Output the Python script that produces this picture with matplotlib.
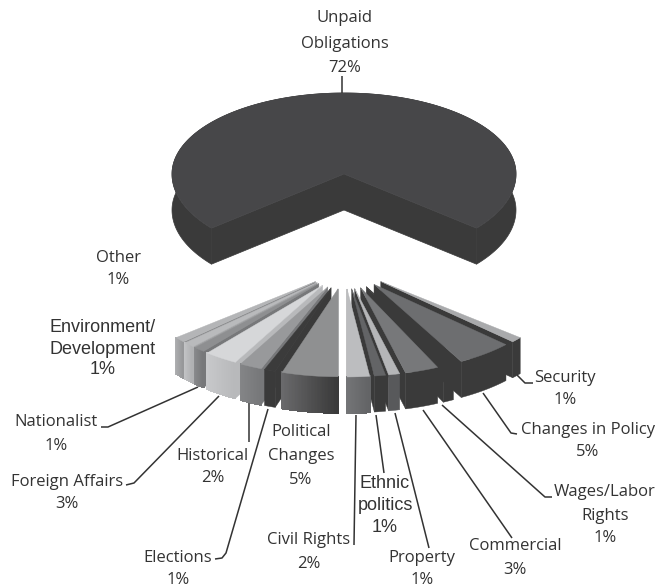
import numpy as np
import matplotlib
matplotlib.use("Agg")
import matplotlib.pyplot as plt
from matplotlib.patches import Polygon
from matplotlib.collections import PolyCollection
from matplotlib.colors import to_rgb

plt.rcParams['font.family'] = ['Open Sans', 'DejaVu Sans']

# data
categories = ["Security", "Changes in Policy", "Wages/Labor Rights", "Commercial", "Property",
              "Ethnic politics", "Civil Rights", "Political Changes", "Elections", "Historical",
              "Foreign Affairs", "Nationalist", "Environment/ Development", "Other"]
values = [1, 5, 1, 3, 1, 1, 2, 5, 1, 2, 3, 1, 1, 1]
main_label = "Unpaid Obligations"
main_value = 72

# styles for each small slice: top, side-left, side-right, cut face
tops  = ['#a9aaac', '#6d6e70', '#3a3a3a', '#77787a', '#b5b6b8', '#636466', '#bcbdbf',
         '#8f9091', '#3b3b3b', '#98999b', '#d6d7d9', '#8e8f91', '#b9babc', '#b4b5b7']
sideL = ['#3a3a3a', '#3a3a3a', '#3a3a3a', '#3a3a3a', '#58595b', '#3a3a3a', '#747577',
         '#6a6a6c', '#3a3a3a', '#848587', '#c8c9cb', '#8a8b8d', '#c2c3c5', '#aeafb1']
sideR = ['#3a3a3a', '#3a3a3a', '#3a3a3a', '#3a3a3a', '#58595b', '#3a3a3a', '#636466',
         '#3a3a3a', '#3a3a3a', '#77787a', '#b8b9bb', '#77787a', '#b0b1b3', '#97989a']
cuts  = ['#3a3a3a', '#3a3a3a', '#3a3a3a', '#3a3a3a', '#3a3a3a', '#3a3a3a', '#6d6e70',
         '#555658', '#3a3a3a', '#77787a', '#b8b9bb', '#77787a', '#a0a1a3', '#8e8f91']

W, H = 660, 587
fig = plt.figure(figsize=(W/100, H/100), dpi=100)
ax = fig.add_axes([0, 0, 1, 1])
ax.set_xlim(0, W); ax.set_ylim(H, 0); ax.axis('off')

# geometry (pixel-based scales)
CX, CY = 344.0, 267.0      # pie centre for small slices
EX_R, EX_L, EY = 49.0, 38.0, 22.0   # explosion
RX, RY = 181.0, 88.0       # radii of small slices
DEPTH = 36.0
deg = 360.0 / (main_value + sum(values))

def arc(ax0, ay0, a0, a1, rx, ry, n=40, ry_back=None):
    t = np.radians(np.linspace(a0, a1, n))
    c = np.cos(t)
    r = np.where(c >= 0, ry, ry if ry_back is None else ry_back)
    return ax0 + rx*np.sin(t), ay0 + r*c

# big slice, angle measured from "down", positive to the right
half = sum(values) * deg / 2
bx, by, brx, bry_front, bry_back = 344.0, 174.0, 172.0, 85.0, 81.0
big_color_top, big_color_side = '#474749', '#3a3a3a'
xs, ys = arc(bx, by, half, 360 - half, brx, bry_front, 300, ry_back=bry_back)
outer = np.column_stack([np.r_[xs, xs[::-1]], np.r_[ys, ys[::-1] + DEPTH]])
ax.add_patch(Polygon(outer, fc=big_color_side, ec=big_color_side, lw=.5, zorder=2))
for e in (0, -1):
    ax.add_patch(Polygon([(bx, by), (xs[e], ys[e]), (xs[e], ys[e]+DEPTH), (bx, by+DEPTH)],
                         fc=big_color_side, ec=big_color_side, lw=.5, zorder=2))
ax.add_patch(Polygon(np.column_stack([np.r_[bx, xs], np.r_[by, ys]]),
                     fc=big_color_top, ec=big_color_top, lw=.5, zorder=3))

# small slices, from the right side going clockwise
edges = half - np.cumsum([0] + values) * deg
mids = (edges[:-1] + edges[1:]) / 2
z = 4
for i in sorted(range(len(values)), key=lambda k: -abs(mids[k])):
    a0, a1 = edges[i], edges[i+1]
    mid = mids[i]
    ex = EX_R if mid > 0 else EX_L
    ax0 = CX + ex*np.sin(np.radians(mid))
    ay0 = CY + EY*np.cos(np.radians(mid))
    xa, ya = arc(ax0, ay0, a0, a1, RX, RY)
    inner = (xa[-1], ya[-1]) if abs(a1) < abs(a0) else (xa[0], ya[0])
    ax.add_patch(Polygon([(ax0, ay0), inner, (inner[0], inner[1]+DEPTH), (ax0, ay0+DEPTH)],
                         fc=cuts[i], ec=cuts[i], lw=.3, zorder=z))
    # outer wall: solid base, then gradient strips
    o = np.argsort(xa)
    xo, yo = xa[o], ya[o]
    cL, cR = np.array(to_rgb(sideL[i])), np.array(to_rgb(sideR[i]))
    ax.add_patch(Polygon(np.column_stack([np.r_[xo, xo[::-1]], np.r_[yo, yo[::-1] + DEPTH]]),
                         fc=(cL+cR)/2, ec=(cL+cR)/2, lw=.3, zorder=z))
    if sideL[i] != sideR[i]:
        quads, cols = [], []
        for k in range(len(xo)-1):
            quads.append([(xo[k], yo[k]), (xo[k+1], yo[k+1]),
                          (xo[k+1], yo[k+1]+DEPTH), (xo[k], yo[k]+DEPTH)])
            f = k / (len(xo)-2)
            cols.append(cL*(1-f) + cR*f)
        ax.add_collection(PolyCollection(quads, facecolors=cols, edgecolors=cols,
                                         linewidths=.8, zorder=z, antialiaseds=False))
    ax.add_patch(Polygon(np.column_stack([np.r_[ax0, xa], np.r_[ay0, ya]]),
                         fc=tops[i], ec=tops[i], lw=.3, zorder=z))
    z += 1

# labels
FS = 12.0
TC = '#333333'
ARIAL = ['Liberation Sans', 'DejaVu Sans']
def lab(x, y, lines, c=TC, fam=None, fs=FS):
    dy = 0 if fam else 1.5
    for s, yy in zip(lines, y):
        ax.text(x, yy + dy, s, ha='center', va='center', fontsize=fs, color=c, zorder=40,
                family=fam if fam else plt.rcParams['font.family'])

def pct(v): return f"{v}%"
lab(345, [17, 43, 66], ["Unpaid", "Obligations", pct(main_value)])
lab(565, [376, 399], ["Security", pct(values[0])])
lab(588, [428, 451], ["Changes in Policy", pct(values[1])])
lab(605, [491, 514, 537], ["Wages/Labor", "Rights", pct(values[2])])
lab(515, [545, 568], ["Commercial", pct(values[3])])
lab(422, [556, 579], ["Property", pct(values[4])])
lab(385, [484, 506, 528], ["Ethnic", "politics", pct(values[5])], c='#333333', fam=ARIAL, fs=13)
lab(309, [539, 562], ["Civil Rights", pct(values[6])])
lab(301, [431, 455, 478], ["Political", "Changes", pct(values[7])])
lab(178, [556, 579], ["Elections", pct(values[8])])
lab(213, [454, 477], ["Historical", pct(values[9])])
lab(67, [480, 503], ["Foreign Affairs", pct(values[10])])
lab(56, [421, 444], ["Nationalist", pct(values[11])])
lab(103, [328, 349, 370], ["Environment/", "Development", pct(values[12])], c='#333333', fam=ARIAL, fs=13)
lab(118.5, [256, 279], ["Other", pct(values[13])])

# leader lines
leaders = [
    [(342, 76), (342, 93)],
    [(517, 375), (525, 383), (533, 383)],
    [(483, 393), (511, 433), (517, 434)],
    [(442, 405), (545, 497), (552, 497)],
    [(423, 410), (512, 538)],
    [(395, 413), (429, 548)],
    [(376, 415), (384, 473)],
    [(356, 415), (354, 545)],
    [(268, 409), (226, 553), (222, 558), (215, 559)],
    [(249, 403), (249, 442)],
    [(219, 396), (134, 483), (126, 485)],
    [(198, 387), (108, 427), (101, 427)],
]
for pts in leaders:
    p = np.array(pts)
    ax.plot(p[:, 0], p[:, 1], color='#333333', lw=1.1, zorder=30, solid_capstyle='butt')

fig.savefig("out.png", dpi=100)
